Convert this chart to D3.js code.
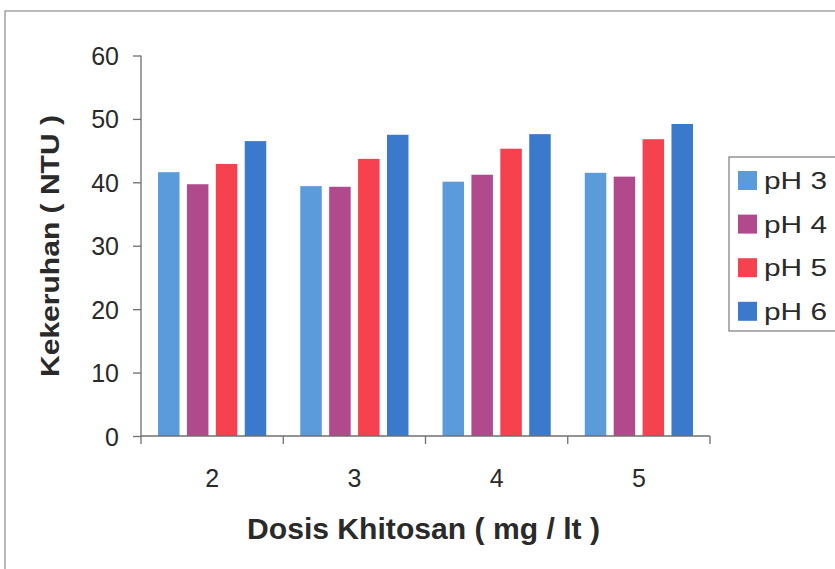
<!DOCTYPE html>
<html>
<head>
<meta charset="utf-8">
<script src="https://cdn.jsdelivr.net/npm/d3@7"></script>
<style>
  html, body { margin: 0; padding: 0; background: #fff; }
  svg { display: block; }
  text { font-family: "Liberation Sans", Arial, Helvetica, sans-serif; fill: #2a2a2a; }
</style>
</head>
<body>
<svg id="chart" width="835" height="569"></svg>
<script>
const categories = ["2", "3", "4", "5"];
const seriesNames = ["pH 3", "pH 4", "pH 5", "pH 6"];
const pH3 = [41.6, 39.4, 40.1, 41.5];
const pH4 = [39.7, 39.3, 41.2, 40.9];
const pH5 = [42.9, 43.7, 45.3, 46.8];
const pH6 = [46.5, 47.5, 47.6, 49.2];
const yTicks = [0, 10, 20, 30, 40, 50, 60];
const colors = ["#5b9bdb", "#b14a8d", "#f6414f", "#3a79cc"];
const xTitle = "Dosis Khitosan ( mg / lt )";
const yTitle = "Kekeruhan ( NTU )";

const seriesValues = [pH3, pH4, pH5, pH6];
const svg = d3.select("#chart");

// outer chart border
svg.append("rect").attr("x", 5).attr("y", 11).attr("width", 840).attr("height", 570)
  .attr("fill", "none").attr("stroke", "#8a8a8a").attr("stroke-width", 1.2);

const pLeft = 141, pRight = 710, pTop = 55.5, pBottom = 436;
const x0 = d3.scaleBand().domain(categories).range([pLeft, pRight]).padding(0);
const x1 = d3.scaleBand().domain(seriesNames).range([0, x0.bandwidth()])
  .paddingInner(0.256).paddingOuter(0.589);
const y = d3.scaleLinear().domain([0, 60]).range([pBottom, pTop]);

// bars
const g = svg.append("g");
categories.forEach((c, ci) => {
  seriesNames.forEach((s, si) => {
    g.append("rect")
      .attr("x", x0(c) + x1(s))
      .attr("y", y(seriesValues[si][ci]))
      .attr("width", x1.bandwidth())
      .attr("height", y(0) - y(seriesValues[si][ci]))
      .attr("fill", colors[si]);
  });
});

// y axis
const yAxis = d3.axisLeft(y).tickValues(yTicks).tickSize(8).tickPadding(14);
const ya = svg.append("g").attr("transform", `translate(${pLeft},0)`).call(yAxis);
ya.select(".domain").attr("stroke", "#6f6f6f").attr("stroke-width", 1.3)
  .attr("d", `M0,${pTop}V${pBottom}`);
ya.selectAll(".tick line").attr("stroke", "#6f6f6f").attr("stroke-width", 1.3);
ya.selectAll(".tick text").style("font-size", "25px").attr("fill", "#2a2a2a")
  .attr("dy", "0.36em");

// x axis
const xAxis = d3.axisBottom(x0).tickSize(0).tickPadding(0);
const xa = svg.append("g").attr("transform", `translate(0,${pBottom})`).call(xAxis);
xa.select(".domain").attr("stroke", "#6f6f6f").attr("stroke-width", 1.3)
  .attr("d", `M${pLeft},0H${pRight}`);
xa.selectAll(".tick text").style("font-size", "25px").attr("fill", "#2a2a2a")
  .attr("y", 51).attr("dy", "0");
// boundary ticks
const bounds = categories.map(c => x0(c)).concat([pRight]);
xa.selectAll(".bound").data(bounds).join("line").attr("class", "bound")
  .attr("x1", d => d).attr("x2", d => d).attr("y1", 0).attr("y2", 8)
  .attr("stroke", "#6f6f6f").attr("stroke-width", 1.3);

// axis titles
svg.append("text").text(xTitle)
  .attr("x", 423.5).attr("y", 539).attr("text-anchor", "middle")
  .attr("textLength", 353).attr("lengthAdjust", "spacingAndGlyphs")
  .style("font-size", "29px").style("font-weight", "bold");
svg.append("text").text(yTitle)
  .attr("transform", "translate(59,246) rotate(-90)")
  .attr("text-anchor", "middle")
  .attr("textLength", 262).attr("lengthAdjust", "spacingAndGlyphs")
  .style("font-size", "25px").style("font-weight", "bold");

// legend
const leg = svg.append("g");
leg.append("rect").attr("x", 729).attr("y", 157).attr("width", 120).attr("height", 174)
  .attr("fill", "#fff").attr("stroke", "#7a7a7a").attr("stroke-width", 1.2);
seriesNames.forEach((s, i) => {
  const cy = 180.5 + i * 43.6;
  leg.append("rect").attr("x", 738).attr("y", cy - 9.5).attr("width", 19).attr("height", 19)
    .attr("fill", colors[i]);
  leg.append("text").text(s).attr("x", 764).attr("y", cy + 8.5)
    .attr("textLength", 63).attr("lengthAdjust", "spacingAndGlyphs")
    .style("font-size", "24px");
});
</script>
</body>
</html>
